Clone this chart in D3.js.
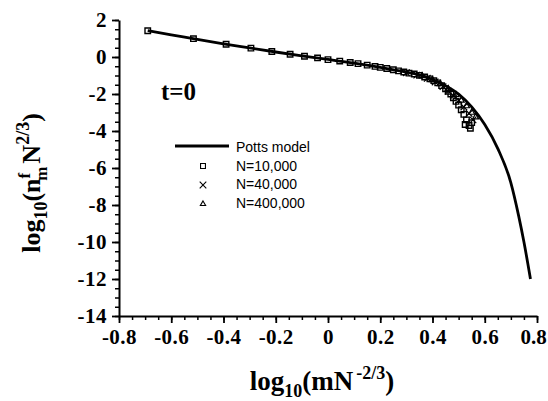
<!DOCTYPE html>
<html>
<head>
<meta charset="utf-8">
<script src="https://cdn.jsdelivr.net/npm/d3@7"></script>
<style>
  body { margin: 0; background: #fff; }
  svg { display: block; }
  .tick text { font-family: "Liberation Serif", "Times New Roman", serif; font-weight: bold; font-size: 21px; letter-spacing: 0.5px; }
</style>
</head>
<body>
<div id="chart"></div>
<script>
// t=0 scaling plot: Potts model curve and simulation points

var width = 548;
var height = 401;
var margin = {left: 119, right: 11, top: 20, bottom: 85};

// Potts model curve
var pottsX = [-0.69, -0.6, -0.5, -0.4, -0.3, -0.2, -0.1, 0, 0.1, 0.2, 0.3, 0.35, 0.4, 0.45, 0.5, 0.55, 0.6, 0.65, 0.7, 0.73, 0.75, 0.775];
var pottsY = [1.42, 1.2, 0.95, 0.71, 0.49, 0.27, 0.06, -0.13, -0.33, -0.56, -0.82, -0.97, -1.22, -1.55, -2.0, -2.7, -3.65, -4.95, -6.8, -8.6, -10.0, -12.0];

// N=10,000 (squares)
var n10kX = [-0.69, -0.515, -0.39, -0.295, -0.215, -0.145, -0.09, -0.04, 0.0, 0.045, 0.085, 0.115, 0.15, 0.18, 0.2, 0.225, 0.25, 0.27, 0.29, 0.31, 0.33, 0.35, 0.37, 0.39, 0.405, 0.42, 0.435, 0.45, 0.46, 0.47, 0.48, 0.49, 0.5, 0.51, 0.52, 0.53, 0.54, 0.55, 0.545, 0.525];
var n10kY = [1.42, 0.99, 0.69, 0.48, 0.3, 0.15, 0.04, -0.05, -0.14, -0.22, -0.3, -0.36, -0.44, -0.51, -0.56, -0.62, -0.69, -0.75, -0.81, -0.87, -0.92, -0.99, -1.08, -1.18, -1.28, -1.4, -1.55, -1.72, -1.86, -2.0, -2.2, -2.4, -2.6, -2.85, -3.1, -3.4, -3.7, -3.55, -3.85, -3.65];

// N=40,000 (crosses)
var n40kX = [0.3, 0.34, 0.38, 0.41, 0.44, 0.46, 0.48, 0.5, 0.52, 0.54, 0.555];
var n40kY = [-0.85, -0.98, -1.15, -1.35, -1.6, -1.85, -2.1, -2.35, -2.7, -3.05, -3.4];

// N=400,000 (triangles)
var n400kX = [0.36, 0.4, 0.43, 0.46, 0.49, 0.51, 0.53, 0.55, 0.565];
var n400kY = [-1.02, -1.24, -1.45, -1.72, -2.05, -2.35, -2.65, -3.0, -3.25];

var xTicks = [-0.8, -0.6, -0.4, -0.2, 0, 0.2, 0.4, 0.6, 0.8];
var yTicks = [2, 0, -2, -4, -6, -8, -10, -12, -14];
var legendLabels = ["Potts model", "N=10,000", "N=40,000", "N=400,000"];

var svg = d3.select("#chart").append("svg")
    .attr("width", width)
    .attr("height", height);

var x = d3.scaleLinear().domain([-0.8, 0.8]).range([margin.left, width - margin.right]);
var y = d3.scaleLinear().domain([-14, 2]).range([height - margin.bottom, margin.top]);

// plain hyphen for minus, like the original
function fmt(d) { return String(d); }

// minor ticks
svg.append("g")
    .attr("transform", "translate(0," + y(-14) + ")")
    .call(d3.axisBottom(x).tickValues(d3.range(-0.8, 0.801, 0.05)).tickSize(4).tickFormat(""))
    .call(function(g) { g.select(".domain").remove(); })
    .selectAll("line").attr("stroke-width", 1.5);
svg.append("g")
    .attr("transform", "translate(" + x(-0.8) + ",0)")
    .call(d3.axisLeft(y).tickValues(d3.range(-14, 2.01, 0.5)).tickSize(4).tickFormat(""))
    .call(function(g) { g.select(".domain").remove(); })
    .selectAll("line").attr("stroke-width", 1.5);

// major axes
var xAxis = svg.append("g")
    .attr("transform", "translate(0," + y(-14) + ")")
    .call(d3.axisBottom(x).tickValues(xTicks).tickSize(7).tickSizeOuter(0).tickPadding(6).tickFormat(fmt));
var yAxis = svg.append("g")
    .attr("transform", "translate(" + x(-0.8) + ",0)")
    .call(d3.axisLeft(y).tickValues(yTicks).tickSize(7).tickSizeOuter(0).tickPadding(5).tickFormat(fmt));
[xAxis, yAxis].forEach(function(g) {
  g.select(".domain").attr("stroke-width", 2);
  g.selectAll("line").attr("stroke-width", 1.8);
});
// keep the last x label inside the page
xAxis.selectAll(".tick text").filter(function(d) { return d === 0.8; })
    .attr("dx", -4).style("letter-spacing", "0px");

// Potts curve
var line = d3.line()
    .x(function(d) { return x(d[0]); })
    .y(function(d) { return y(d[1]); })
    .curve(d3.curveMonotoneX);

svg.append("path")
    .datum(d3.zip(pottsX, pottsY))
    .attr("d", line)
    .attr("fill", "none")
    .attr("stroke", "#000")
    .attr("stroke-width", 2.8);

// markers
var sq = d3.symbol().type(d3.symbolSquare).size(30);
var cr = d3.symbol().type(d3.symbolTimes).size(30);
var tr = d3.symbol().type(d3.symbolTriangle2).size(26);

svg.append("g").selectAll("path")
    .data(d3.zip(n10kX, n10kY))
    .enter().append("path")
    .attr("transform", function(d) { return "translate(" + x(d[0]) + "," + y(d[1]) + ")"; })
    .attr("d", sq)
    .attr("fill", "none")
    .attr("stroke", "#000")
    .attr("stroke-width", 1.4);

svg.append("g").selectAll("path")
    .data(d3.zip(n40kX, n40kY))
    .enter().append("path")
    .attr("transform", function(d) { return "translate(" + x(d[0]) + "," + y(d[1]) + ")"; })
    .attr("d", cr)
    .attr("fill", "none")
    .attr("stroke", "#000")
    .attr("stroke-width", 1.2);

svg.append("g").selectAll("path")
    .data(d3.zip(n400kX, n400kY))
    .enter().append("path")
    .attr("transform", function(d) { return "translate(" + x(d[0]) + "," + y(d[1]) + ")"; })
    .attr("d", tr)
    .attr("fill", "none")
    .attr("stroke", "#000")
    .attr("stroke-width", 1.2);

// t=0 label
svg.append("text")
    .attr("x", 161).attr("y", 100)
    .attr("font-family", "Liberation Serif, Times New Roman, serif")
    .attr("font-weight", "bold")
    .attr("font-size", 25)
    .text("t=0");

// legend
var legend = svg.append("g").attr("font-family", "Liberation Sans, Arial, sans-serif").attr("font-size", 14);
legendLabels.forEach(function(lab, i) {
  var yy = 147 + i * 18.7;
  legend.append("text").attr("x", 236).attr("y", yy + 5).text(lab);
});
legend.append("line").attr("x1", 175).attr("x2", 229).attr("y1", 146).attr("y2", 146)
    .attr("stroke", "#000").attr("stroke-width", 2.8);
legend.append("path").attr("transform", "translate(203,166)").attr("d", d3.symbol().type(d3.symbolSquare).size(24))
    .attr("fill", "none").attr("stroke", "#000").attr("stroke-width", 1.1);
legend.append("path").attr("transform", "translate(203,185)").attr("d", d3.symbol().type(d3.symbolTimes).size(30))
    .attr("fill", "none").attr("stroke", "#000").attr("stroke-width", 1.1);
legend.append("path").attr("transform", "translate(203,204)").attr("d", d3.symbol().type(d3.symbolTriangle2).size(20))
    .attr("fill", "none").attr("stroke", "#000").attr("stroke-width", 1.1);

// x axis title
var xt = svg.append("text")
    .attr("x", 322).attr("y", 390)
    .attr("text-anchor", "middle")
    .attr("font-family", "Liberation Serif, Times New Roman, serif")
    .attr("font-weight", "bold")
    .attr("font-size", 27);
xt.append("tspan").text("log");
xt.append("tspan").attr("dy", 7).attr("font-size", 18).text("10");
xt.append("tspan").attr("dy", -7).text("(mN");
xt.append("tspan").attr("dy", -11).attr("dx", 3).attr("font-size", 18).text("-2/3");
xt.append("tspan").attr("dy", 11).text(")");

// y axis title
var yt = svg.append("text")
    .attr("transform", "translate(40,183) rotate(-90)")
    .attr("text-anchor", "middle")
    .attr("font-family", "Liberation Serif, Times New Roman, serif")
    .attr("font-weight", "bold")
    .attr("font-size", 26);
yt.append("tspan").text("log");
yt.append("tspan").attr("dy", 7).attr("font-size", 18).text("10");
yt.append("tspan").attr("dy", -7).text("(n");
yt.append("tspan").attr("dy", -10).attr("font-size", 17).text("f");
yt.append("tspan").attr("dy", 17).attr("dx", -8).attr("font-size", 17).text("m");
yt.append("tspan").attr("dy", -7).attr("dx", 3).text("N");
yt.append("tspan").attr("dy", -11).attr("font-size", 18).text("2/3");
yt.append("tspan").attr("dy", 11).text(")");
</script>
</body>
</html>
